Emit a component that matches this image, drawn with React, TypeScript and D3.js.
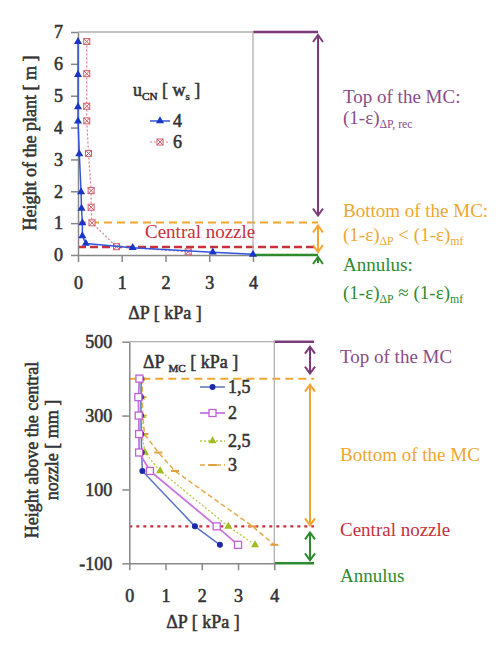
import { useEffect, useRef } from "react";
import * as d3 from "d3";

// ── Data ──────────────────────────────────────────────────────────────────────

// upper chart: height of the plant [m] vs ΔP [kPa]
const TOP_H_4  = [6.7, 5.66, 4.65, 4.2, 3.17, 1.98, 1.46, 1.01, 0.6, 0.36, 0.23, 0.09, 0.02];
const TOP_DP_4 = [0, 0, 0, 0, 0.03, 0.07, 0.08, 0.1, 0.1, 0.18, 1.25, 3.08, 4.0];
const TOP_H_6  = [6.7, 5.69, 4.67, 4.21, 3.19, 2.02, 1.5, 1.01, 0.26, 0.1];
const TOP_DP_6 = [0.2, 0.2, 0.2, 0.2, 0.24, 0.3, 0.3, 0.32, 0.88, 2.52];
const TOP_X_TICKS = [0, 1, 2, 3, 4];
const TOP_Y_TICKS = [0, 1, 2, 3, 4, 5, 6, 7];
const TOP_LEGEND  = ["4", "6"];
const TOP_LEVELS  = { top: 7, bottom: 1.02, nozzle: 0.25, annulus: 0 };

// lower chart: height above the central nozzle [mm] vs ΔP [kPa]
const BOT_H      = [400, 350, 300, 250, 200, 150, 0, -50];
const BOT_DP_15  = [0.33, 0.32, 0.32, 0.33, 0.34, 0.36, 1.81, 2.5];
const BOT_DP_2   = [0.28, 0.25, 0.26, 0.27, 0.27, 0.57, 2.41, 3.0];
const BOT_DP_25  = [0.33, 0.33, 0.35, 0.35, 0.43, 0.85, 2.73, 3.47];
const BOT_DP_3   = [0.36, 0.36, 0.37, 0.42, 0.8, 1.26, 3.4, 4.0];
const BOT_X_TICKS = [0, 1, 2, 3, 4];
const BOT_Y_TICKS = [-100, 100, 300, 500];
const BOT_LEGEND  = ["1,5", "2", "2,5", "3"];
const BOT_LEVELS  = { top: 500, bottom: 400, nozzle: 0, annulus: -100 };

// ── Config ────────────────────────────────────────────────────────────────────

const W = 500;
const H = 645;
const FONT = "'Liberation Serif', 'Times New Roman', serif";
const TXT = "#333";

const COL = {
  purple:  "#7b3b78",
  purpleT: "#8a4c88",
  orange:  "#f0a630",
  red:     "#c8303c",
  green:   "#2f8a2f",
};

type Marker = "tri" | "xsq" | "dot" | "sq" | "dash";
interface Style { color: string; mcolor: string; width: number; dash: string | null; marker: Marker; }

const STYLE_4:  Style = { color: "#3355dd", mcolor: "#1a35c8", width: 1.5, dash: null,  marker: "tri" };
const STYLE_6:  Style = { color: "#e07a88", mcolor: "#d05a6a", width: 1.2, dash: "2,2", marker: "xsq" };
const STYLE_15: Style = { color: "#5a74c8", mcolor: "#1a2aa8", width: 1.5, dash: null,  marker: "dot" };
const STYLE_2:  Style = { color: "#c873e0", mcolor: "#c060d8", width: 1.8, dash: null,  marker: "sq" };
const STYLE_25: Style = { color: "#b8c840", mcolor: "#a0bc20", width: 1.3, dash: "2,2", marker: "tri" };
const STYLE_3:  Style = { color: "#e8a848", mcolor: "#e0a040", width: 1.5, dash: "5,3", marker: "dash" };

type G = d3.Selection<SVGGElement, unknown, null, undefined>;
type Part = { t: string; sub?: boolean };

// bold serif is not installed, so thicken the regular face with a thin stroke
const bold = (sel: any, color = TXT) =>
  sel.attr("font-weight", "normal").attr("fill", color)
    .attr("stroke", color).attr("stroke-width", 0.55).attr("paint-order", "stroke");

// ── Helpers ───────────────────────────────────────────────────────────────────

function marker(g: G, type: Marker, x: number, y: number, color: string) {
  if (type === "tri") {
    g.append("path")
      .attr("d", d3.symbol(d3.symbolTriangle, 28)())
      .attr("transform", `translate(${x},${y})`)
      .attr("fill", color);
  } else if (type === "dot") {
    g.append("circle").attr("cx", x).attr("cy", y).attr("r", 3).attr("fill", color);
  } else if (type === "sq") {
    g.append("rect").attr("x", x - 3.5).attr("y", y - 3.5).attr("width", 7).attr("height", 7)
      .attr("fill", "#fff").attr("stroke", color).attr("stroke-width", 1.3);
  } else if (type === "xsq") {
    g.append("rect").attr("x", x - 3).attr("y", y - 3).attr("width", 6).attr("height", 6)
      .attr("fill", "#fff").attr("stroke", color).attr("stroke-width", 1);
    g.append("path").attr("d", `M${x - 3},${y - 3}L${x + 3},${y + 3}M${x + 3},${y - 3}L${x - 3},${y + 3}`)
      .attr("stroke", color).attr("stroke-width", 1);
  } else {
    g.append("line").attr("x1", x - 4).attr("x2", x + 4).attr("y1", y).attr("y2", y)
      .attr("stroke", color).attr("stroke-width", 2);
  }
}

function series(g: G, x: d3.ScaleLinear<number, number>, y: d3.ScaleLinear<number, number>,
                dp: number[], h: number[], s: Style) {
  const pts = dp.map((d, i) => [x(d), y(h[i])] as [number, number]);
  g.append("path")
    .attr("d", d3.line()(pts))
    .attr("fill", "none")
    .attr("stroke", s.color)
    .attr("stroke-width", s.width)
    .attr("stroke-dasharray", s.dash);
  pts.forEach(([px, py]) => marker(g, s.marker, px, py, s.mcolor));
}

function legendItem(g: G, x: number, y: number, len: number, label: string, s: Style) {
  g.append("line").attr("x1", x).attr("x2", x + len).attr("y1", y).attr("y2", y)
    .attr("stroke", s.color).attr("stroke-width", s.width).attr("stroke-dasharray", s.dash);
  marker(g, s.marker, x + len / 2, y, s.mcolor);
  bold(g.append("text").attr("x", x + len + 3).attr("y", y + 6).attr("font-size", 18)).text(label);
}

function rich(g: G, x: number, y: number, parts: Part[], size: number, color: string, isBold = false) {
  const t = g.append("text").attr("x", x).attr("y", y).attr("font-size", size).attr("fill", color);
  if (isBold) bold(t, color);
  let down = false;
  parts.forEach((p) => {
    const s = t.append("tspan").text(p.t);
    if (p.sub) {
      s.attr("font-size", size * 0.62);
      if (!down) { s.attr("dy", 4); down = true; }
    } else if (down) {
      s.attr("dy", -4); down = false;
    }
  });
}

function arrow(g: G, x: number, y1: number, y2: number, color: string, head1 = true, head2 = true) {
  g.append("line").attr("x1", x).attr("x2", x).attr("y1", y1).attr("y2", y2)
    .attr("stroke", color).attr("stroke-width", 2);
  const a = 5, b = 7;
  const d = [
    head1 ? `M${x - a},${y1 + b}L${x},${y1}L${x + a},${y1 + b}` : "",
    head2 ? `M${x - a},${y2 - b}L${x},${y2}L${x + a},${y2 - b}` : "",
  ].join("");
  g.append("path").attr("d", d).attr("fill", "none").attr("stroke", color).attr("stroke-width", 2);
}

function axes(g: G, x: d3.ScaleLinear<number, number>, y: d3.ScaleLinear<number, number>,
              xTicks: number[], yTicks: number[], xPad: number, yPad: number) {
  const [x0, x1] = x.range();
  const [y0, y1] = y.range();

  g.append("path")
    .attr("d", `M${x0},${y1}H${x1}V${y0}`)
    .attr("fill", "none").attr("stroke", "#b0b0b0").attr("stroke-width", 1.3);

  // plain hyphen for negatives, as in the source figure
  const fmt = (d: d3.NumberValue) => String(d);

  const ax = g.append("g").attr("transform", `translate(0,${y0})`)
    .call(d3.axisBottom(x).tickValues(xTicks).tickSize(7).tickSizeOuter(0).tickPadding(xPad).tickFormat(fmt));
  const ay = g.append("g").attr("transform", `translate(${x0},0)`)
    .call(d3.axisLeft(y).tickValues(yTicks).tickSize(7).tickSizeOuter(0).tickPadding(yPad).tickFormat(fmt));

  [ax, ay].forEach((a) => {
    a.attr("font-family", FONT);
    a.select(".domain").attr("stroke", "#888").attr("stroke-width", 1.5);
    a.selectAll(".tick line").attr("stroke", "#888").attr("stroke-width", 1.5);
    bold(a.selectAll("text").attr("font-family", FONT).attr("font-size", 18));
  });
}

function levels(g: G, x: d3.ScaleLinear<number, number>, y: d3.ScaleLinear<number, number>,
                lv: { top: number; bottom: number; nozzle: number; annulus: number },
                xEnd: number, nozzleDash: string, nozzleWidth: number) {
  const [x0, x1] = x.range();
  const hline = (v: number, from: number, color: string, w: number, dash: string | null) =>
    g.append("line").attr("x1", from).attr("x2", xEnd).attr("y1", y(v)).attr("y2", y(v))
      .attr("stroke", color).attr("stroke-width", w).attr("stroke-dasharray", dash);

  hline(lv.top, x1, COL.purple, 2.5, null);
  hline(lv.bottom, x0, COL.orange, 2, "8,5");
  hline(lv.nozzle, x0, COL.red, nozzleWidth, nozzleDash);
  hline(lv.annulus, x1, COL.green, 2.5, null);
}

// ── Component ─────────────────────────────────────────────────────────────────

export default function App() {
  const svgRef = useRef<SVGSVGElement>(null);

  useEffect(() => {
    if (!svgRef.current) return;
    const root = d3.select(svgRef.current);
    root.selectAll("*").remove();
    const svg = root.append("g").attr("font-family", FONT) as unknown as G;

    // ── Upper chart ───────────────────────────────────────────────────────────
    const xT = d3.scaleLinear().domain([0, 4]).range([78, 253]);
    const yT = d3.scaleLinear().domain([0, 7]).range([255, 32]);
    const top = svg.append("g");

    levels(top, xT, yT, TOP_LEVELS, 318, "8,4", 2.6);
    axes(top, xT, yT, TOP_X_TICKS, TOP_Y_TICKS, 14, 8);

    series(top, xT, yT, TOP_DP_6, TOP_H_6, STYLE_6);
    series(top, xT, yT, TOP_DP_4, TOP_H_4, STYLE_4);

    top.append("text").attr("x", 145).attr("y", 238).attr("font-size", 19)
      .attr("fill", COL.red).text("Central nozzle");

    rich(top, 133, 96, [{ t: "u" }, { t: "CN", sub: true }, { t: " [ w" }, { t: "s", sub: true }, { t: " ]" }], 18, TXT, true);
    legendItem(top, 150, 121, 20, TOP_LEGEND[0], STYLE_4);
    legendItem(top, 150, 142, 20, TOP_LEGEND[1], STYLE_6);

    bold(top.append("text").attr("x", 165).attr("y", 319).attr("text-anchor", "middle")
      .attr("font-size", 18)).text("ΔP [ kPa ]");
    bold(top.append("text").attr("transform", "translate(30,143) rotate(-90)")
      .attr("text-anchor", "middle").attr("dominant-baseline", "central")
      .attr("font-size", 18)).text("Height of the plant [ m ]");

    // right side annotations
    arrow(top, 318, yT(TOP_LEVELS.top) + 3, yT(TOP_LEVELS.bottom) - 7, COL.purple);
    arrow(top, 318, yT(TOP_LEVELS.bottom) + 3, yT(TOP_LEVELS.annulus) - 3, COL.orange);
    arrow(top, 318, yT(TOP_LEVELS.annulus) + 2, yT(TOP_LEVELS.annulus) + 8, COL.green, true, false);

    rich(top, 343, 103, [{ t: "Top of the MC:" }], 19, COL.purpleT);
    rich(top, 343, 124, [{ t: "(1-ε)" }, { t: "ΔP, rec", sub: true }], 19, COL.purpleT);
    rich(top, 343, 217, [{ t: "Bottom of the MC:" }], 19, COL.orange);
    rich(top, 343, 241, [{ t: "(1-ε)" }, { t: "ΔP", sub: true }, { t: " < (1-ε)" }, { t: "mf", sub: true }], 19, COL.orange);
    rich(top, 343, 271, [{ t: "Annulus:" }], 19, COL.green);
    rich(top, 343, 299, [{ t: "(1-ε)" }, { t: "ΔP", sub: true }, { t: " ≈ (1-ε)" }, { t: "mf", sub: true }], 19, COL.green);

    // ── Lower chart ───────────────────────────────────────────────────────────
    const xB = d3.scaleLinear().domain([0, 4]).range([129.3, 274.3]);
    const yB = d3.scaleLinear().domain([-100, 500]).range([563.3, 341.7]);
    const bot = svg.append("g");

    levels(bot, xB, yB, BOT_LEVELS, 314, "3,4", 2.2);
    axes(bot, xB, yB, BOT_X_TICKS, BOT_Y_TICKS, 19, 10);

    series(bot, xB, yB, BOT_DP_3, BOT_H, STYLE_3);
    series(bot, xB, yB, BOT_DP_25, BOT_H, STYLE_25);
    series(bot, xB, yB, BOT_DP_15, BOT_H, STYLE_15);
    series(bot, xB, yB, BOT_DP_2, BOT_H, STYLE_2);

    rich(bot, 143, 368, [{ t: "ΔP " }, { t: "MC", sub: true }, { t: " [ kPa ]" }], 18, TXT, true);
    legendItem(bot, 200, 387, 25, BOT_LEGEND[0], STYLE_15);
    legendItem(bot, 200, 413, 25, BOT_LEGEND[1], STYLE_2);
    legendItem(bot, 200, 441, 25, BOT_LEGEND[2], STYLE_25);
    legendItem(bot, 200, 465, 25, BOT_LEGEND[3], STYLE_3);

    bold(bot.append("text").attr("x", 203).attr("y", 628).attr("text-anchor", "middle")
      .attr("font-size", 18)).text("ΔP [ kPa ]");
    const yTitle = bold(bot.append("text").attr("transform", "translate(42,450) rotate(-90)")
      .attr("text-anchor", "middle").attr("dominant-baseline", "central")
      .attr("font-size", 18));
    yTitle.append("tspan").attr("x", 0).attr("dy", -10).text("Height above the central");
    yTitle.append("tspan").attr("x", 0).attr("dy", 20).text("nozzle [ mm ]");

    arrow(bot, 310, yB(BOT_LEVELS.top) + 5, yB(BOT_LEVELS.bottom) - 5, COL.purple);
    arrow(bot, 310, yB(BOT_LEVELS.bottom) + 6, yB(BOT_LEVELS.nozzle) - 1, COL.orange);
    arrow(bot, 310, yB(BOT_LEVELS.nozzle) + 6, yB(BOT_LEVELS.annulus) - 3, COL.green);

    rich(bot, 340, 363, [{ t: "Top of the MC" }], 19, COL.purpleT);
    rich(bot, 340, 461, [{ t: "Bottom of the MC" }], 19, COL.orange);
    rich(bot, 340, 536, [{ t: "Central nozzle" }], 19, COL.red);
    rich(bot, 340, 582, [{ t: "Annulus" }], 19, COL.green);
  }, []);

  return (
    <svg
      ref={svgRef}
      width={W}
      height={H}
      style={{ position: "absolute", left: 0, top: 0, background: "#fff", display: "block" }}
    />
  );
}
